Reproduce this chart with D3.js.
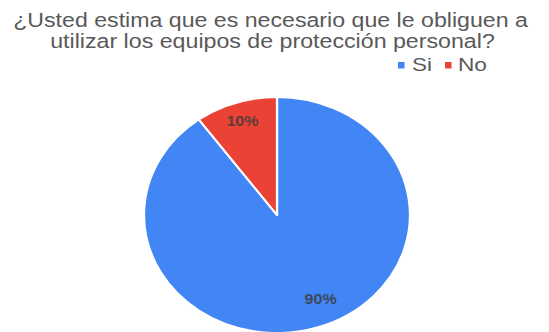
<!DOCTYPE html>
<html>
<head>
<meta charset="utf-8">
<script src="https://cdn.jsdelivr.net/npm/d3@7"></script>
<style>
  html, body { margin: 0; padding: 0; background: #fff; }
  svg { display: block; }
</style>
</head>
<body>
<svg id="chart" width="549" height="332"></svg>
<script>
// Survey answers
const categories = ["Si", "No"];
const values = [90, 10];
const valueLabels = ["90%", "10%"];
const colors = ["#4285F4", "#EA4335"];
const titleLines = [
  "¿Usted estima que es necesario que le obliguen a",
  "utilizar los equipos de protección personal?"
];

const W = 549, H = 332;
const svg = d3.select("#chart");
const stretch = 1.127; // horizontal stretch of the whole graphic
const font = "Arial, 'Liberation Sans', sans-serif";

// Title, two centred lines stretched horizontally
const titleBaselines = [27, 48];
const titleWidths = [515, 445];
const titleCenters = [270.5, 272.5];
titleLines.forEach((line, i) => {
  const t = svg.append("text")
    .attr("font-family", font)
    .attr("font-size", 21)
    .attr("fill", "#595959")
    .attr("text-anchor", "middle")
    .text(line);
  const w = t.node().getComputedTextLength();
  const sx = titleWidths[i] / w;
  t.attr("transform", `translate(${titleCenters[i]},${titleBaselines[i]}) scale(${sx},1)`);
});

// Legend: swatch positions and label text widths
const swatchX = [398, 445];
const labelX = [412, 458];
const labelW = [20, 29];
categories.forEach((c, i) => {
  svg.append("rect")
    .attr("x", swatchX[i]).attr("y", 62)
    .attr("width", 6.5).attr("height", 6.5)
    .attr("fill", colors[i]);
  const t = svg.append("text")
    .attr("font-family", font)
    .attr("font-size", 19)
    .attr("fill", "#595959")
    .text(c);
  const w = t.node().getComputedTextLength();
  t.attr("transform", `translate(${labelX[i]},71) scale(${labelW[i] / w},1)`);
});

// Pie
const cx = 277, cy = 215, R = 118;
const pie = d3.pie().sort(null).value(d => d)(values);
const arc = d3.arc().innerRadius(0).outerRadius(R);
const pieG = svg.append("g").attr("transform", `translate(${cx},${cy}) scale(${stretch},1)`);

pieG.selectAll("path.slice")
  .data(pie)
  .join("path")
  .attr("class", "slice")
  .attr("d", arc)
  .attr("fill", (d, i) => colors[i])
  .attr("stroke", "#fff")
  .attr("stroke-width", 2)
  .attr("stroke-linejoin", "round");

// Percentage labels inside slices
const labelRadius = [0.78 * R, 0.84 * R];
const labelAngleShift = [-0.12, 0];
pie.forEach((d, i) => {
  const a = (d.startAngle + d.endAngle) / 2 + labelAngleShift[i];
  const x = Math.sin(a) * labelRadius[i];
  const y = -Math.cos(a) * labelRadius[i];
  const g = pieG.append("g").attr("transform", `translate(${x},${y}) scale(${1 / stretch},1)`);
  g.append("text")
    .attr("text-anchor", "middle")
    .attr("dy", "0.35em")
    .attr("font-family", font)
    .attr("font-size", 15)
    .attr("font-weight", "bold")
    .attr("fill", "#3c3c3c")
    .attr("fill-opacity", 0.85)
    .attr("transform", `scale(${stretch * 0.95},1)`)
    .text(valueLabels[i]);
});
</script>
</body>
</html>
